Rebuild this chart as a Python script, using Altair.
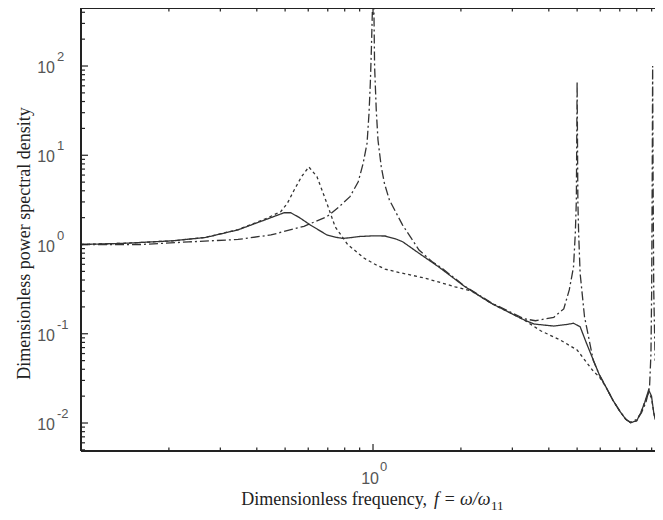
import altair as alt
import pandas as pd

# ---------------- data ----------------
f_solid = [0.1, 0.139, 0.206, 0.267, 0.345, 0.425, 0.496, 0.523, 0.56, 0.611, 0.695, 0.751,
           0.79, 0.85, 0.9, 1.0, 1.1, 1.2, 1.263, 1.433, 1.675, 2.066, 2.543, 3.296, 3.563,
           4.16, 4.6, 4.86, 5.12, 5.38, 5.68, 5.95, 6.29, 6.63, 7.01, 7.34, 7.63, 8.0, 8.26,
           8.52, 8.79, 8.99, 9.15, 9.25]
psd_solid = [1.0, 1.03, 1.1, 1.2, 1.46, 1.88, 2.27, 2.27, 2.0, 1.65, 1.28, 1.2,
             1.17, 1.2, 1.23, 1.25, 1.245, 1.15, 1.075, 0.803, 0.564, 0.336, 0.219, 0.1426, 0.1285,
             0.122, 0.127, 0.131, 0.12, 0.0787, 0.0508, 0.035, 0.025, 0.018, 0.0135, 0.011, 0.0101, 0.0106, 0.013,
             0.017, 0.0235, 0.02, 0.013, 0.011]

f_dotted = [0.1, 0.139, 0.206, 0.267, 0.345, 0.425, 0.483, 0.509, 0.537, 0.57, 0.603, 0.643,
            0.695, 0.742, 0.819, 0.934, 1.026, 1.1, 1.198, 1.514, 1.91, 2.18, 2.543, 3.296,
            3.75, 4.38, 5.0, 5.68, 5.95, 6.29, 6.63, 7.01, 7.34, 7.63, 8.0, 8.26, 8.52, 8.79,
            8.99, 9.15, 9.25]
psd_dotted = [1.0, 1.03, 1.1, 1.2, 1.47, 1.92, 2.33, 2.9, 4.08, 5.8, 7.4, 5.75,
              2.9, 1.58, 1.0, 0.7, 0.59, 0.53, 0.495, 0.418, 0.336, 0.3, 0.219, 0.1426,
              0.108, 0.085, 0.0658, 0.038, 0.033, 0.025, 0.018, 0.0135, 0.011, 0.0101, 0.0106, 0.013, 0.017, 0.022,
              0.019, 0.013, 0.011]

f_dashdot = [0.1, 0.16, 0.234, 0.345, 0.447, 0.58, 0.695, 0.766, 0.834, 0.89, 0.925, 0.954,
             0.969, 0.979, 0.987, 0.9945, 1.0, 1.0125, 1.026, 1.04, 1.067, 1.094, 1.138, 1.263,
             1.437, 1.595, 1.7, 2.066, 2.543, 3.296, 3.6, 4.16, 4.5, 4.7, 4.86, 4.93, 4.97,
             5.0, 5.03, 5.06, 5.12, 5.3, 5.5, 5.68, 5.95, 6.29, 6.63, 7.01, 7.34, 7.63, 8.0,
             8.3, 8.6, 8.85, 8.95, 9.0, 9.04, 9.07, 9.1, 9.15, 9.25]
psd_dashdot = [1.0, 1.0, 1.07, 1.14, 1.28, 1.6, 2.05, 2.65, 3.44, 5.05, 8.1, 13.6,
               29.5, 64, 151, 390, 3000, 100, 32, 14.8, 7.45, 4.85, 3.15, 1.65,
               0.867, 0.641, 0.56, 0.34, 0.222, 0.147, 0.14, 0.153, 0.19, 0.31, 0.56, 1.35, 3.15,
               67, 3.0, 1.35, 0.475, 0.155, 0.085, 0.05, 0.035, 0.025, 0.018, 0.0135, 0.011, 0.0101, 0.011,
               0.013, 0.017, 0.025, 0.06, 0.3, 6, 100, 6, 0.3, 0.05]

# axis ticks / labels
x_major = [1]
x_minor = [0.2, 0.3, 0.4, 0.5, 0.6, 0.7, 0.8, 0.9, 2, 3, 4, 5, 6, 7, 8, 9]
y_major = [0.01, 0.1, 1, 10, 100]
y_exp = ["-2", "-1", "0", "1", "2"]
y_minor = [0.005, 0.006, 0.007, 0.008, 0.009,
           0.02, 0.03, 0.04, 0.05, 0.06, 0.07, 0.08, 0.09,
           0.2, 0.3, 0.4, 0.5, 0.6, 0.7, 0.8, 0.9,
           2, 3, 4, 5, 6, 7, 8, 9,
           20, 30, 40, 50, 60, 70, 80, 90,
           200, 300, 400]
x_label_vals = [1]
x_label_exp = ["0"]

# ---------------- layout ----------------
W, H = 574, 443
X_DOMAIN = [0.1, 9.24]
Y_DOMAIN = [0.004857, 446.7]
FRAME = "#222222"
LINE = "#333333"
LABEL_FONT = "Liberation Sans, Arial, Helvetica, sans-serif"
TITLE_FONT = "Liberation Serif, Times New Roman, Times, serif"

xs = alt.Scale(type="log", domain=X_DOMAIN, nice=False, zero=False)
ys = alt.Scale(type="log", domain=Y_DOMAIN, nice=False, zero=False)

def curve(f, p, dash):
    df = pd.DataFrame({"f": f, "psd": p})
    return alt.Chart(df).mark_line(
        color=LINE, strokeWidth=1.3, strokeDash=dash, clip=True
    ).encode(
        x=alt.X("f:Q", scale=xs, axis=None),
        y=alt.Y("psd:Q", scale=ys, axis=None),
    )

solid = curve(f_solid, psd_solid, [1, 0])
dotted = curve(f_dotted, psd_dotted, [3, 3])
dashdot = curve(f_dashdot, psd_dashdot, [9, 3, 2, 3])

# ticks
def xticks(vals, length):
    df = pd.DataFrame({"v": vals})
    base = alt.Chart(df).mark_rule(color=FRAME, strokeWidth=1.2)
    bottom = base.encode(x=alt.X("v:Q", scale=xs, axis=None), y=alt.value(H), y2=alt.value(H - length))
    top = base.encode(x=alt.X("v:Q", scale=xs, axis=None), y=alt.value(0), y2=alt.value(length))
    return [bottom, top]

def yticks(vals, length):
    df = pd.DataFrame({"v": vals})
    return [alt.Chart(df).mark_rule(color=FRAME, strokeWidth=1.2).encode(
        y=alt.Y("v:Q", scale=ys, axis=None), x=alt.value(0), x2=alt.value(length))]

ticks = xticks(x_major, 7) + xticks(x_minor, 3.5) + yticks(y_major, 7) + yticks(y_minor, 4)

# frame (left, top, bottom; right side is cropped in the reference)
frame_df = pd.DataFrame({"k": [0]})
frame = [
    alt.Chart(frame_df).mark_rule(color=FRAME, strokeWidth=2).encode(
        x=alt.value(0), y=alt.value(0), y2=alt.value(H)),
    alt.Chart(frame_df).mark_rule(color=FRAME, strokeWidth=2).encode(
        x=alt.value(0), x2=alt.value(W), y=alt.value(0)),
    alt.Chart(frame_df).mark_rule(color=FRAME, strokeWidth=2).encode(
        x=alt.value(0), x2=alt.value(W), y=alt.value(H)),
]

# tick labels
ylab_df = pd.DataFrame({"v": y_major, "e": y_exp})
ylab10 = alt.Chart(ylab_df).mark_text(
    align="right", baseline="alphabetic", dy=7, font=LABEL_FONT, fontSize=16, color="#555555"
).encode(y=alt.Y("v:Q", scale=ys, axis=None), x=alt.value(-26), text=alt.value("10"))
ylabexp = alt.Chart(ylab_df).mark_text(
    align="left", baseline="alphabetic", dy=-5, font=LABEL_FONT, fontSize=13, color="#555555"
).encode(y=alt.Y("v:Q", scale=ys, axis=None), x=alt.value(-24), text="e:N")

xlab_df = pd.DataFrame({"v": x_label_vals, "e": x_label_exp})
xlab10 = alt.Chart(xlab_df).mark_text(
    align="right", baseline="alphabetic", dx=6, font=LABEL_FONT, fontSize=16, color="#555555"
).encode(x=alt.X("v:Q", scale=xs, axis=None), y=alt.value(476), text=alt.value("10"))
xlabexp = alt.Chart(xlab_df).mark_text(
    align="left", baseline="alphabetic", dx=7, font=LABEL_FONT, fontSize=13, color="#555555"
).encode(x=alt.X("v:Q", scale=xs, axis=None), y=alt.value(463), text="e:N")

# titles
t_df = pd.DataFrame({"k": [0]})
xt_a = alt.Chart(t_df).mark_text(
    align="right", baseline="alphabetic", font=TITLE_FONT, fontSize=18, color="#222222"
).encode(x=alt.value(346), y=alt.value(497), text=alt.value("Dimensionless frequency,"))
xt_b = alt.Chart(t_df).mark_text(
    align="right", baseline="alphabetic", font=TITLE_FONT, fontSize=18, fontStyle="italic", color="#222222"
).encode(x=alt.value(409.5), y=alt.value(497), text=alt.value("f = ω/ω"))
xt_c = alt.Chart(t_df).mark_text(
    align="left", baseline="alphabetic", font=TITLE_FONT, fontSize=13, color="#222222"
).encode(x=alt.value(410), y=alt.value(502), text=alt.value("11"))
yt = alt.Chart(t_df).mark_text(
    align="center", baseline="alphabetic", angle=270, font=TITLE_FONT, fontSize=18, color="#222222"
).encode(x=alt.value(-51), y=alt.value(235.5), text=alt.value("Dimensionless power spectral density"))

chart = alt.layer(
    solid, dotted, dashdot, *ticks, *frame, ylab10, ylabexp, xlab10, xlabexp, xt_a, xt_b, xt_c, yt
).properties(
    width=W, height=H,
    autosize=alt.AutoSizeParams(type="none"),
    padding={"left": 73, "top": 0, "right": 0, "bottom": 61},
).configure_view(stroke=None).configure(background="white")

chart.save("out.html", embed_options={"renderer": "svg", "actions": False})
